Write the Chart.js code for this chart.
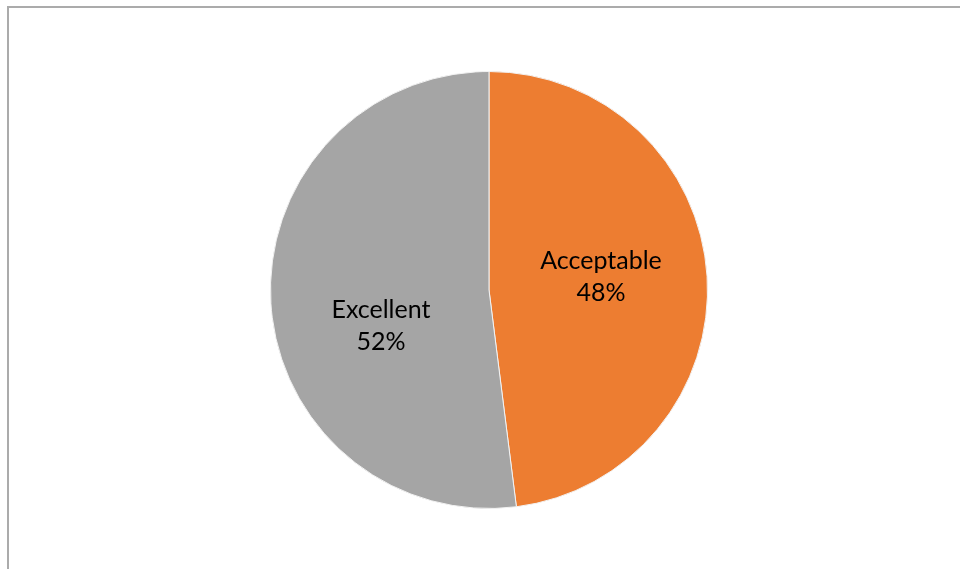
<!DOCTYPE html>
<html>
<head>
<meta charset="utf-8">
<script src="https://cdn.jsdelivr.net/npm/chart.js@4"></script>
<style>
  html, body { margin: 0; padding: 0; background: #fff; }
  body { width: 960px; height: 569px; position: relative; overflow: hidden; }
  #frame {
    position: absolute; left: 7px; top: 6px; width: 980px; height: 600px;
    border: 2px solid #ababab; box-sizing: border-box;
  }
  #wrap { position: absolute; left: 270px; top: 71px; width: 438px; height: 438px; }
</style>
</head>
<body>
<div id="frame"></div>
<div id="wrap"><canvas id="chart" width="438" height="438"></canvas></div>
<script>
const categories = ["Acceptable", "Excellent"];
const shares = [48, 52];
const sliceColors = ["#ED7D31", "#A5A5A5"];

// small nudges so the two labels sit where the spreadsheet put them
const labelShift = [[3, -6], [1, 29]];

const sliceLabels = {
  id: "sliceLabels",
  afterDatasetsDraw(chart) {
    const ctx = chart.ctx;
    const meta = chart.getDatasetMeta(0);
    const total = shares.reduce((a, b) => a + b, 0);
    ctx.save();
    ctx.font = "25px Lato, 'Open Sans', sans-serif";
    ctx.fillStyle = "#000";
    ctx.textAlign = "center";
    ctx.textBaseline = "middle";
    meta.data.forEach((arc, i) => {
      const p = arc.tooltipPosition();
      const x = p.x + labelShift[i][0];
      const y = p.y + labelShift[i][1];
      const pct = Math.round((shares[i] / total) * 100) + "%";
      ctx.fillText(categories[i], x, y - 16);
      ctx.fillText(pct, x, y + 16);
    });
    ctx.restore();
  },
};

function initializeChart() {
  const ctx = document.getElementById("chart");
  new Chart(ctx, {
    type: "pie",
    data: {
      labels: categories,
      datasets: [{
        data: shares,
        backgroundColor: sliceColors,
        borderColor: "#f2f2f2",
        borderWidth: 1,
      }],
    },
    options: {
      responsive: false,
      animation: false,
      plugins: {
        legend: { display: false },
        tooltip: { enabled: false },
      },
    },
    plugins: [sliceLabels],
  });
}

initializeChart();
</script>
</body>
</html>
